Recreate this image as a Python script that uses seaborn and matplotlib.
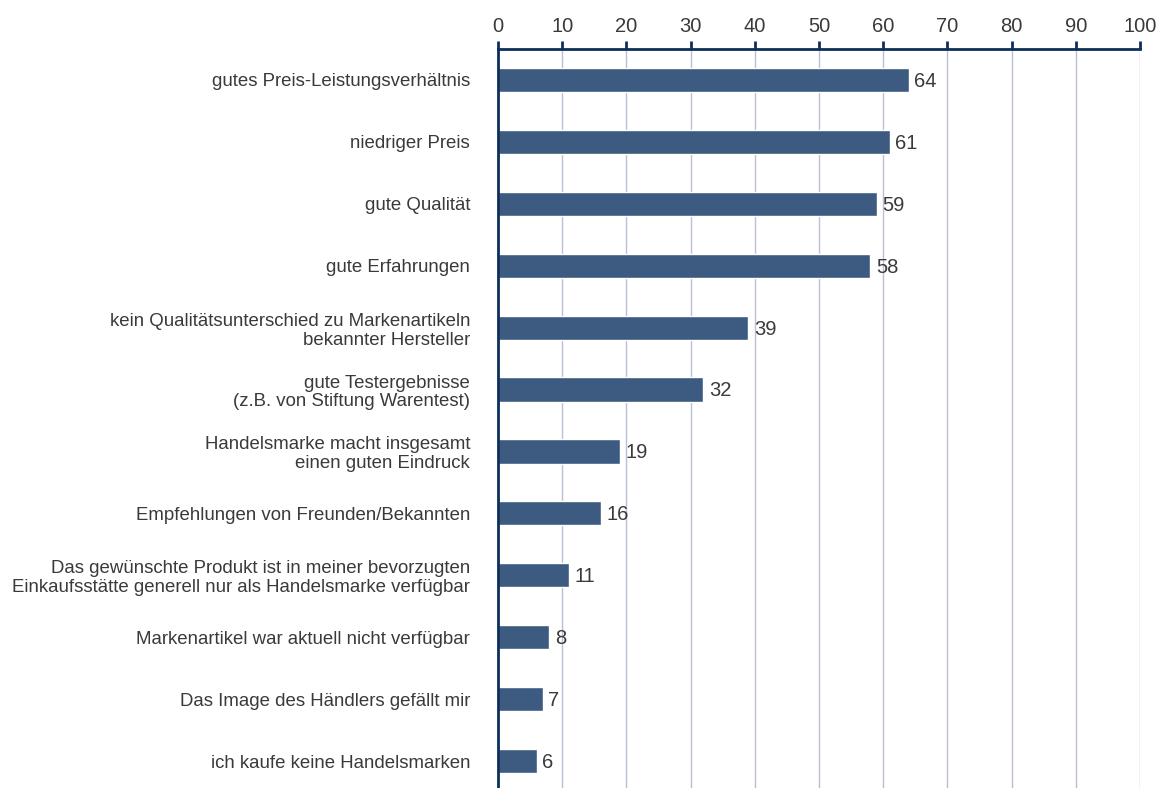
import matplotlib
matplotlib.use("Agg")
import matplotlib.pyplot as plt
import numpy as np
import pandas as pd
import seaborn as sns

categories = [
    "gutes Preis-Leistungsverhältnis",
    "niedriger Preis",
    "gute Qualität",
    "gute Erfahrungen",
    "kein Qualitätsunterschied zu Markenartikeln\nbekannter Hersteller",
    "gute Testergebnisse\n(z.B. von Stiftung Warentest)",
    "Handelsmarke macht insgesamt\neinen guten Eindruck",
    "Empfehlungen von Freunden/Bekannten",
    "Das gewünschte Produkt ist in meiner bevorzugten\nEinkaufsstätte generell nur als Handelsmarke verfügbar",
    "Markenartikel war aktuell nicht verfügbar",
    "Das Image des Händlers gefällt mir",
    "ich kaufe keine Handelsmarken",
]
values = [64, 61, 59, 58, 39, 32, 19, 16, 11, 8, 7, 6]
x_ticks = list(range(0, 101, 10))

df = pd.DataFrame({"reason": categories, "share": values})

sns.set_theme(style="white")
plt.rcParams["font.family"] = ["Liberation Sans", "DejaVu Sans"]

bar_color = "#3d5a80"
axis_color = "#0c2f5c"
grid_color = "#b9bfd9"
text_color = "#3a3a3a"

fig = plt.figure(figsize=(11.68, 7.88), dpi=100)
ax = fig.add_axes([498 / 1168, -4 / 788, (1140 - 498) / 1168, (788 - 49 + 4) / 788])

sns.barplot(data=df, x="share", y="reason", color=bar_color, saturation=1,
            width=0.39, ax=ax, zorder=3)

ax.set_xlim(0, 100)
ax.set_ylim(len(categories) - 0.5, -0.5)
ax.set_xlabel("")
ax.set_ylabel("")

# x axis on top
ax.xaxis.tick_top()
ax.set_xticks(x_ticks)
ax.tick_params(axis="x", direction="out", length=6, width=2, color=axis_color,
               labelsize=14.5, labelcolor=text_color, pad=3)

# y labels at category centres, ticks at boundaries
ax.set_yticks(range(len(categories)))
ax.set_yticklabels(categories, fontsize=13.4, color=text_color,
                   ha="right", multialignment="right", linespacing=1.15)
ax.tick_params(axis="y", which="major", length=0, pad=20)
ax.set_yticks(np.arange(-0.5, len(categories), 1), minor=True)
ax.tick_params(axis="y", which="minor", direction="out", length=6, width=2, color=axis_color)

ax.grid(axis="x", color=grid_color, linewidth=1, zorder=0)
ax.grid(axis="y", visible=False)

for side in ["right", "bottom"]:
    ax.spines[side].set_visible(False)
for side in ["top", "left"]:
    ax.spines[side].set_color(axis_color)
    ax.spines[side].set_linewidth(2)
    ax.spines[side].set_zorder(4)

# value labels
for i, v in enumerate(values):
    ax.annotate(f"{v}", (v, i), xytext=(4, -1), textcoords="offset points",
                va="center", ha="left", fontsize=14.5, color=text_color)

fig.savefig("out.png", dpi=100)
